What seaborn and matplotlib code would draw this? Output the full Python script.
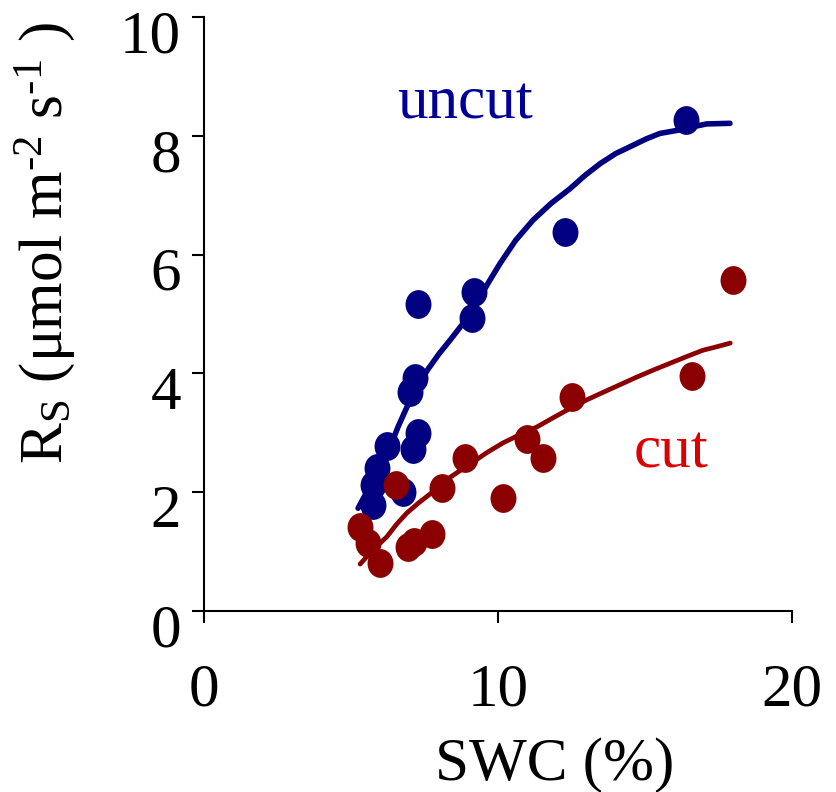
import matplotlib
matplotlib.use("Agg")
import matplotlib.pyplot as plt
import matplotlib.transforms as mtransforms
from matplotlib.path import Path
import seaborn as sns
import pandas as pd

# Soil respiration vs soil water content, uncut and cut plots
uncut_swc = [16.39, 12.28, 9.18, 9.12, 7.28, 7.17, 7.00, 7.28, 7.10, 6.22, 5.88, 5.76, 5.76, 6.77]
uncut_rs = [8.26, 6.38, 5.37, 4.93, 5.16, 3.92, 3.68, 3.00, 2.72, 2.78, 2.40, 2.12, 1.78, 2.00]

cut_swc = [17.99, 16.60, 12.52, 10.99, 11.53, 10.17, 8.88, 8.10, 6.53, 5.31, 5.58, 5.99, 6.95, 7.15, 7.76]
cut_rs = [5.57, 3.95, 3.60, 2.89, 2.57, 1.90, 2.57, 2.07, 2.12, 1.41, 1.14, 0.81, 1.07, 1.17, 1.30]

# Fitted trend lines
uncut_fit_swc = [5.24, 5.50, 5.75, 6.05, 6.33, 6.60, 6.90, 7.25, 7.59, 7.98, 8.37, 8.81, 9.32, 9.70,
                 10.07, 10.60, 11.19, 11.80, 12.45, 12.95, 13.47, 14.00, 14.59, 15.05, 15.51,
                 16.19, 16.60, 17.10, 17.89]
uncut_fit_rs = [1.73, 1.97, 2.20, 2.48, 2.76, 3.10, 3.43, 3.76, 4.05, 4.32, 4.56, 4.84, 5.23, 5.55,
                5.85, 6.24, 6.58, 6.86, 7.11, 7.33, 7.53, 7.70, 7.84, 7.95, 8.04,
                8.10, 8.15, 8.20, 8.21]

cut_fit_swc = [5.31, 5.75, 6.22, 6.55, 6.90, 7.30, 7.69, 8.03, 8.37, 8.73, 9.10, 9.60, 10.17, 10.75,
               11.33, 11.90, 12.45, 13.00, 13.57, 14.15, 14.73, 15.30, 15.85, 16.40, 16.97, 17.45, 17.90]
cut_fit_rs = [0.79, 1.03, 1.25, 1.46, 1.65, 1.82, 1.97, 2.11, 2.25, 2.37, 2.49, 2.66, 2.83, 2.97,
              3.10, 3.26, 3.41, 3.55, 3.68, 3.81, 3.94, 4.06, 4.17, 4.28, 4.39, 4.45, 4.51]

x_ticks = [0, 10, 20]
y_ticks = [0, 2, 4, 6, 8, 10]

sns.set_theme(style="white")
plt.rcParams["font.family"] = ["Liberation Serif", "DejaVu Serif"]
plt.rcParams["mathtext.fontset"] = "custom"
plt.rcParams["mathtext.rm"] = "Liberation Serif"
plt.rcParams["mathtext.it"] = "Liberation Serif:italic"
plt.rcParams["axes.labelcolor"] = "black"
plt.rcParams["text.color"] = "black"

BLUE = "#000080"
RED = "#8b0000"

fig = plt.figure(figsize=(8.36, 7.92), dpi=100)
ax = fig.add_axes([204 / 836, 1 - 611 / 792, 588 / 836, 594 / 792])

# slightly tall elliptical marker
circ = Path.unit_circle()
ellipse = mtransforms.Affine2D().scale(0.9, 1.0).transform_path(circ)

df_u = pd.DataFrame({"swc": uncut_swc, "rs": uncut_rs})
df_c = pd.DataFrame({"swc": cut_swc, "rs": cut_rs})
fit_u = pd.DataFrame({"swc": uncut_fit_swc, "rs": uncut_fit_rs})
fit_c = pd.DataFrame({"swc": cut_fit_swc, "rs": cut_fit_rs})

sns.scatterplot(data=df_u, x="swc", y="rs", ax=ax, color=BLUE, marker=ellipse,
                s=430, linewidth=0, zorder=2, legend=False)
sns.lineplot(data=fit_u, x="swc", y="rs", ax=ax, color=BLUE, linewidth=4,
             sort=False, zorder=3, legend=False)
sns.lineplot(data=fit_c, x="swc", y="rs", ax=ax, color=RED, linewidth=3.4,
             sort=False, zorder=3, legend=False)
sns.scatterplot(data=df_c, x="swc", y="rs", ax=ax, color=RED, marker=ellipse,
                s=430, linewidth=0, zorder=4, legend=False)

ax.text(8.88, 8.29, "uncut", color="#000099", fontsize=44, ha="center", va="baseline")
ax.text(15.88, 2.42, "cut", color="#dd0000", fontsize=44, ha="center", va="baseline")

ax.set_xlim(0, 20)
ax.set_ylim(0, 10)
ax.set_xticks(x_ticks)
ax.set_yticks(y_ticks)
ax.tick_params(axis="both", direction="out", length=8.5, width=1.5, color="black",
               labelsize=44, labelcolor="black", bottom=True, left=True)
ax.tick_params(axis="x", pad=29)
ax.tick_params(axis="y", pad=8)
for side in ["top", "right"]:
    ax.spines[side].set_visible(False)
for side in ["left", "bottom"]:
    ax.spines[side].set_color("black")
    ax.spines[side].set_linewidth(1.5)
ax.grid(False)

ax.set_xlabel("SWC (%)", fontsize=44, color="black")
ax.xaxis.label.set_va("center")
ax.xaxis.set_label_coords(0.597, -0.259)

ax.set_ylabel("R$_\\mathrm{S}$ (\u03bcmol m$^{\\mathrm{\u20102}}$ s$^{\\mathrm{\u20101}}$ )",
              fontsize=44, color="black")
ax.yaxis.label.set_va("center")
ax.yaxis.set_label_coords(-0.270, 0.62)

fig.canvas.draw()
shift = mtransforms.ScaledTranslation(0, -14 / 100, fig.dpi_scale_trans)
for tick in ax.yaxis.get_major_ticks():
    tick.label1.set_transform(tick.label1.get_transform() + shift)

fig.savefig("out.png", dpi=100, facecolor="white")
